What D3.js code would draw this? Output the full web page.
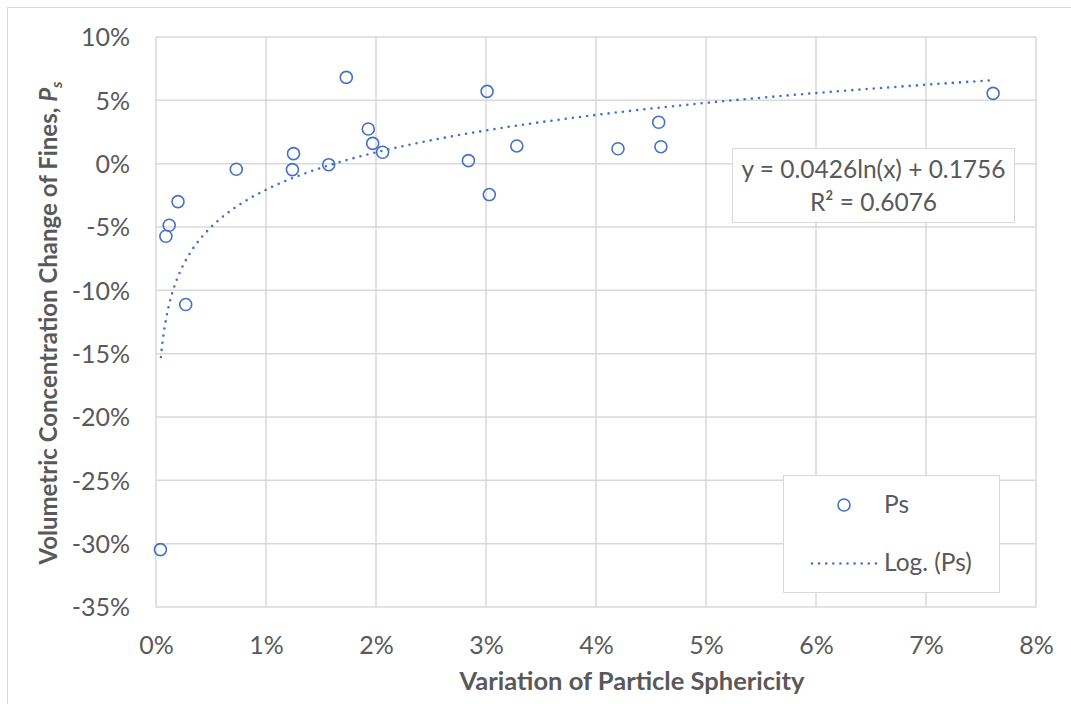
<!DOCTYPE html>
<html>
<head>
<meta charset="utf-8">
<script src="https://cdn.jsdelivr.net/npm/d3@7"></script>
<style>
  body { margin: 0; background: #fff; }
  text { font-family: Lato, "Open Sans", sans-serif; fill: #595959; }
</style>
</head>
<body>
<div id="chart"></div>
<script>
var svgWidth = 1071;
var svgHeight = 704;

var margin = { top: 37, right: 35, bottom: 97, left: 156 };
var width = 1036 - margin.left;
var height = 607 - margin.top;

// data (fractions)
var sphericity = [0.0004, 0.0009, 0.0012, 0.0020, 0.0027, 0.0073, 0.0124, 0.0125, 0.0157,
  0.0173, 0.0193, 0.0197, 0.0206, 0.0284, 0.0301, 0.0303, 0.0328, 0.0420, 0.0457, 0.0459, 0.0761];
var concChange = [-0.3047, -0.0573, -0.0486, -0.0300, -0.1112, -0.0044, -0.0047, 0.0079, -0.0008,
  0.0681, 0.0274, 0.0160, 0.0090, 0.0024, 0.0571, -0.0244, 0.0140, 0.0118, 0.0327, 0.0134, 0.0555];

// log trendline from the chart label
var trendA = 0.0426;
var trendB = 0.1756;
var trendStart = 0.00045;
var trendEnd = 0.0761;

var xTicks = [0, 0.01, 0.02, 0.03, 0.04, 0.05, 0.06, 0.07, 0.08];
var yTicks = [0.10, 0.05, 0, -0.05, -0.10, -0.15, -0.20, -0.25, -0.30, -0.35];

var svg = d3.select("#chart")
  .append("svg")
  .attr("width", svgWidth)
  .attr("height", svgHeight);

// chart border
svg.append("rect")
  .attr("x", 7.5).attr("y", 7.5)
  .attr("width", svgWidth + 20).attr("height", svgHeight + 20)
  .attr("fill", "none")
  .attr("stroke", "#d9d9d9");

var chartGroup = svg.append("g")
  .attr("transform", `translate(${margin.left}, ${margin.top})`);

var xScale = d3.scaleLinear().domain([0, 0.08]).range([0, width]);
var yScale = d3.scaleLinear().domain([-0.35, 0.10]).range([height, 0]);

var pct = d => d3.format(".0%")(d).replace("−", "-");

// gridlines
chartGroup.append("g")
  .selectAll("line")
  .data(xTicks)
  .enter()
  .append("line")
  .attr("x1", d => xScale(d)).attr("x2", d => xScale(d))
  .attr("y1", 0).attr("y2", height)
  .attr("stroke", "#d9d9d9").attr("stroke-width", 1.5);

chartGroup.append("g")
  .selectAll("line")
  .data(yTicks)
  .enter()
  .append("line")
  .attr("x1", 0).attr("x2", width)
  .attr("y1", d => yScale(d)).attr("y2", d => yScale(d))
  .attr("stroke", "#d9d9d9").attr("stroke-width", 1.5);

// axes (labels only)
var bottomAxis = d3.axisBottom(xScale).tickValues(xTicks).tickFormat(pct).tickSize(0).tickPadding(29);
var leftAxis = d3.axisLeft(yScale).tickValues(yTicks).tickFormat(pct).tickSize(0).tickPadding(26);

var xAxis = chartGroup.append("g")
  .attr("transform", `translate(0, ${height})`)
  .call(bottomAxis);
var yAxis = chartGroup.append("g").call(leftAxis);

[xAxis, yAxis].forEach(function(ax) {
  ax.select(".domain").remove();
  ax.selectAll("text")
    .attr("font-family", "Lato, 'Open Sans', sans-serif")
    .attr("font-size", "25px")
    .attr("fill", "#595959");
});
yAxis.selectAll("text").attr("dy", "0.35em");

// trendline
var trendX = d3.range(0, 201).map(i => trendStart + (trendEnd - trendStart) * Math.pow(i / 200, 2));
var line = d3.line()
  .x(d => xScale(d))
  .y(d => yScale(trendA * Math.log(d) + trendB));

chartGroup.append("path")
  .datum(trendX)
  .attr("d", line)
  .attr("fill", "none")
  .attr("stroke", "#4472c4")
  .attr("stroke-width", 2.6)
  .attr("stroke-linecap", "round")
  .attr("stroke-dasharray", "0 7.2");

// points
chartGroup.append("g")
  .selectAll("circle")
  .data(sphericity)
  .enter()
  .append("circle")
  .attr("cx", d => xScale(d))
  .attr("cy", (d, i) => yScale(concChange[i]))
  .attr("r", 6)
  .attr("fill", "none")
  .attr("stroke", "#4472c4")
  .attr("stroke-width", 1.6);

// equation box
svg.append("rect")
  .attr("x", 732.5).attr("y", 148.5)
  .attr("width", 282).attr("height", 74)
  .attr("fill", "#fff")
  .attr("stroke", "#d9d9d9");
svg.append("text")
  .attr("x", 873.5).attr("y", 178)
  .attr("text-anchor", "middle")
  .attr("font-size", "24.5px")
  .text("y = 0.0426ln(x) + 0.1756");
svg.append("text")
  .attr("x", 873.5).attr("y", 211)
  .attr("text-anchor", "middle")
  .attr("font-size", "24.5px")
  .text("R² = 0.6076");

// legend
svg.append("rect")
  .attr("x", 783.5).attr("y", 475.5)
  .attr("width", 216).attr("height", 117)
  .attr("fill", "#fff")
  .attr("stroke", "#d9d9d9");
svg.append("circle")
  .attr("cx", 844).attr("cy", 505)
  .attr("r", 6)
  .attr("fill", "none")
  .attr("stroke", "#4472c4")
  .attr("stroke-width", 1.6);
svg.append("text")
  .attr("x", 884).attr("y", 513)
  .attr("font-size", "24.5px")
  .text("Ps");
svg.append("line")
  .attr("x1", 812).attr("x2", 876)
  .attr("y1", 563.5).attr("y2", 563.5)
  .attr("stroke", "#4472c4")
  .attr("stroke-width", 2.6)
  .attr("stroke-linecap", "round")
  .attr("stroke-dasharray", "0 7.1");
svg.append("text")
  .attr("x", 884).attr("y", 571)
  .attr("font-size", "24.5px")
  .text("Log. (Ps)");

// axis titles
svg.append("text")
  .attr("x", 632).attr("y", 690)
  .attr("text-anchor", "middle")
  .attr("font-size", "25.5px")
  .attr("font-weight", "bold")
  .text("Variation of Particle Sphericity");

var yTitle = svg.append("text")
  .attr("transform", "translate(57, 323) rotate(-90)")
  .attr("text-anchor", "middle")
  .attr("font-size", "24px")
  .attr("font-weight", "bold");
yTitle.append("tspan").text("Volumetric Concentration Change of Fines, ");
yTitle.append("tspan").attr("font-style", "italic").text("P");
yTitle.append("tspan").attr("font-style", "italic").attr("font-size", "16px").attr("dy", "5").text("s");
</script>
</body>
</html>
